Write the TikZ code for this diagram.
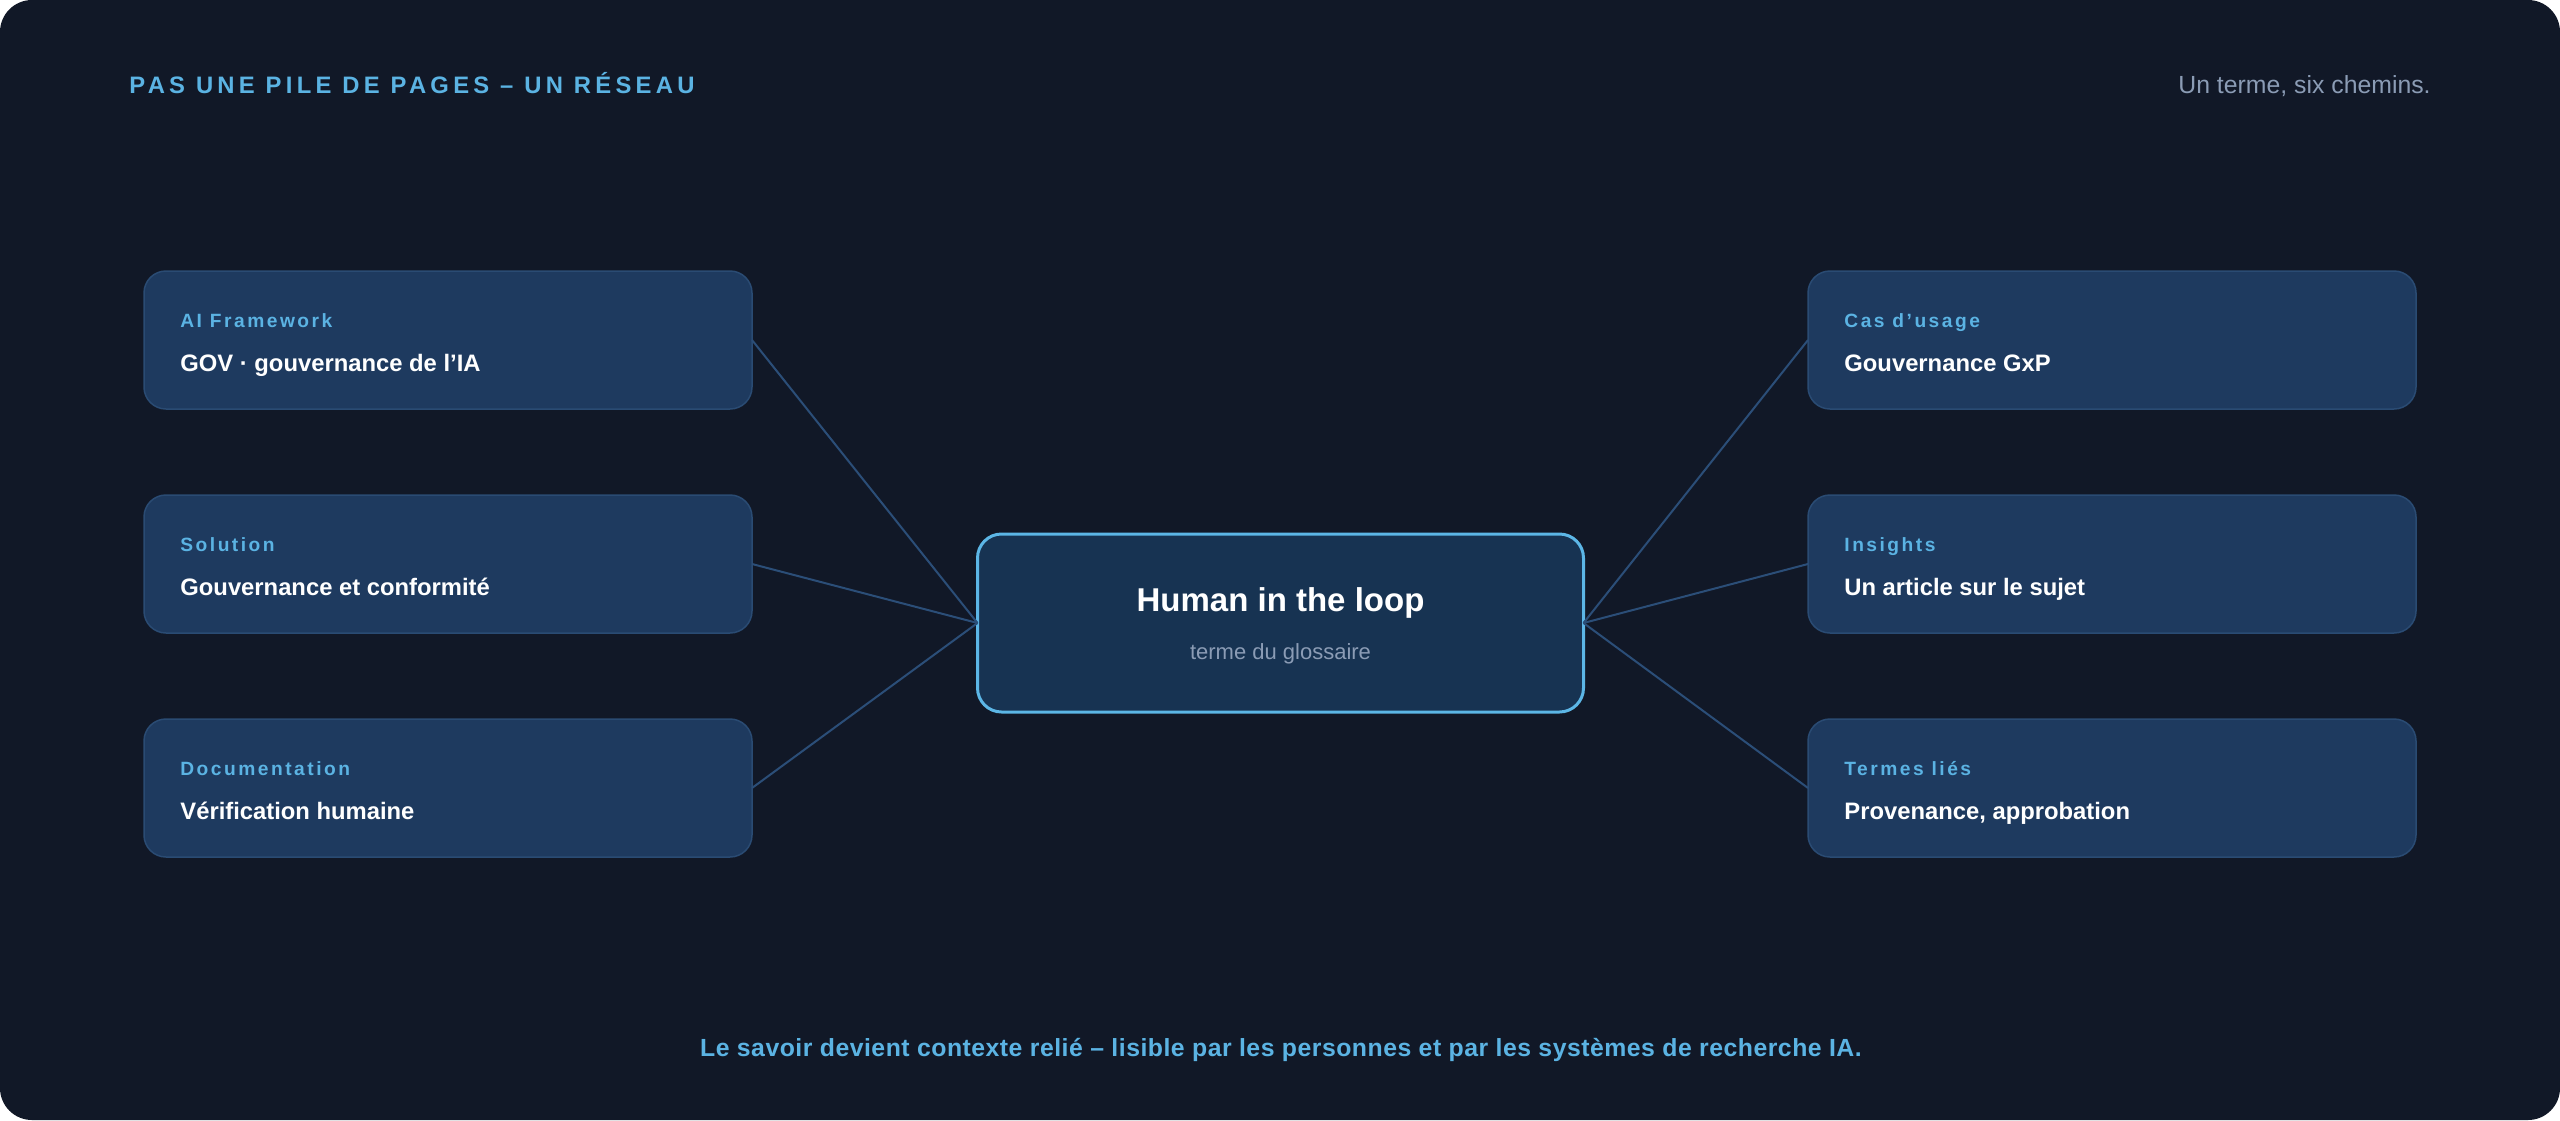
\documentclass[tikz,border=0pt]{standalone}
\usepackage{fontspec}
\setmainfont{Liberation Sans}
\newfontfamily\labelfont[LetterSpace=13]{Liberation Sans}
\newfontfamily\titlefont[LetterSpace=18]{Liberation Sans}
\newfontfamily\bottomfont[LetterSpace=2]{Liberation Sans}
\definecolor{bgc}{HTML}{111827}
\definecolor{cardfill}{HTML}{1E3A5F}
\definecolor{cardline}{HTML}{2A4B73}
\definecolor{hubfill}{HTML}{173352}
\definecolor{hubline}{HTML}{5CB6E6}
\definecolor{accent}{HTML}{5BB3E3}
\definecolor{mutedc}{HTML}{8B9CB5}
\definecolor{connc}{HTML}{2B4E78}
\begin{document}
\begin{tikzpicture}[x=0.5pt,y=-0.5pt,
  card/.style={draw=cardline, line width=0.75pt, fill=cardfill, rounded corners=11pt,
    minimum width=304pt, minimum height=69pt, inner sep=0pt, outer sep=0pt},
  hub/.style={draw=hubline, line width=1.5pt, fill=hubfill, rounded corners=12pt,
    minimum width=303pt, minimum height=89pt, inner sep=0pt, outer sep=0pt},
  cardlabel/.style={anchor=base west, inner sep=0pt, text=accent,
    font=\labelfont\bfseries\fontsize{9.6}{11}\selectfont},
  cardtext/.style={anchor=base west, inner sep=0pt, text=white,
    font=\bfseries\fontsize{11.9}{14}\selectfont},
  conn/.style={draw=connc, line width=1pt}]
\useasboundingbox (0,0) rectangle (2560,1120);
\fill[white] (0,0) rectangle (2560,1120);
\fill[bgc, rounded corners=16pt] (0,0) rectangle (2560,1120);

\node[anchor=base west, inner sep=0pt, text=accent, font=\titlefont\bfseries\fontsize{11.9}{14}\selectfont] (title) at (129,93) {PAS UNE PILE DE PAGES – UN RÉSEAU};
\node[anchor=base east, inner sep=0pt, text=mutedc, font=\fontsize{12.4}{15}\selectfont] (tagline) at (2431,93) {Un terme, six chemins.};

% cards
\node[card] (l1) at (448,340) {};
\node[card] (l2) at (448,564) {};
\node[card] (l3) at (448,788) {};
\node[card] (r1) at (2112,340) {};
\node[card] (r2) at (2112,564) {};
\node[card] (r3) at (2112,788) {};
\node[hub] (c) at (1280.5,623) {};

% connectors
\draw[conn] (l1.east) -- (c.west);
\draw[conn] (l2.east) -- (c.west);
\draw[conn] (l3.east) -- (c.west);
\draw[conn] (r1.west) -- (c.east);
\draw[conn] (r2.west) -- (c.east);
\draw[conn] (r3.west) -- (c.east);

% card texts
\node[cardlabel] (l1a) at ([xshift=18pt,yshift=-28pt]l1.north west) {AI Framework};
\node[cardtext]  (l1b) at ([xshift=18pt,yshift=-50pt]l1.north west) {GOV · gouvernance de l’IA};
\node[cardlabel] (l2a) at ([xshift=18pt,yshift=-28pt]l2.north west) {Solution};
\node[cardtext]  (l2b) at ([xshift=18pt,yshift=-50pt]l2.north west) {Gouvernance et conformité};
\node[cardlabel] (l3a) at ([xshift=18pt,yshift=-28pt]l3.north west) {Documentation};
\node[cardtext]  (l3b) at ([xshift=18pt,yshift=-50pt]l3.north west) {Vérification humaine};
\node[cardlabel] (r1a) at ([xshift=18pt,yshift=-28pt]r1.north west) {Cas d’usage};
\node[cardtext]  (r1b) at ([xshift=18pt,yshift=-50pt]r1.north west) {Gouvernance GxP};
\node[cardlabel] (r2a) at ([xshift=18pt,yshift=-28pt]r2.north west) {Insights};
\node[cardtext]  (r2b) at ([xshift=18pt,yshift=-50pt]r2.north west) {Un article sur le sujet};
\node[cardlabel] (r3a) at ([xshift=18pt,yshift=-28pt]r3.north west) {Termes liés};
\node[cardtext]  (r3b) at ([xshift=18pt,yshift=-50pt]r3.north west) {Provenance, approbation};

% hub texts
\node[anchor=base, inner sep=0pt, text=white, font=\bfseries\fontsize{16.5}{19}\selectfont] (ca) at (1280.5,611.7) {Human in the loop};
\node[anchor=base, inner sep=0pt, text=mutedc, font=\fontsize{11}{13}\selectfont] (cb) at (1280.5,659) {terme du glossaire};

% bottom
\node[anchor=base, inner sep=0pt, text=accent, font=\bottomfont\bfseries\fontsize{12.4}{15}\selectfont] (foot) at (1281,1056) {Le savoir devient contexte relié – lisible par les personnes et par les systèmes de recherche IA.};
\end{tikzpicture}
\end{document}
